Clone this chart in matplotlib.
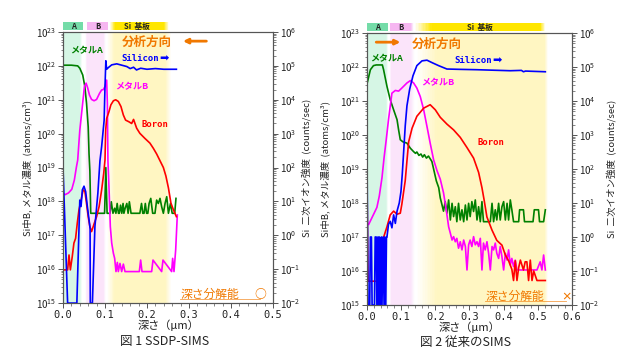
import numpy as np
import matplotlib
matplotlib.use("Agg")
from matplotlib import pyplot as plt
from matplotlib import ticker
from matplotlib.transforms import blended_transform_factory
from matplotlib.patches import Rectangle, FancyArrowPatch

plt.rcParams["font.family"] = ["Noto Sans CJK JP", "DejaVu Sans"]
plt.rcParams["axes.edgecolor"] = "#555555"
plt.rcParams["xtick.color"] = "#555555"
plt.rcParams["ytick.color"] = "#555555"
plt.rcParams["xtick.labelcolor"] = "#222222"
plt.rcParams["ytick.labelcolor"] = "#222222"

# ---- fig.1 SSDP-SIMS (depth um, log10 concentration atoms/cm3) ----
ssdp_metalA_x = [0.0, 0.02, 0.035, 0.040, 0.047, 0.052, 0.056, 0.060, 0.062, 0.064, 0.066, 0.095, 0.099,
                 0.102, 0.105, 0.109, 0.112, 0.115, 0.119, 0.123, 0.126, 0.129, 0.132, 0.134, 0.137, 0.140,
                 0.143, 0.145, 0.148, 0.152, 0.155, 0.158, 0.162, 0.1675, 0.183, 0.187, 0.190, 0.193, 0.196,
                 0.199, 0.202, 0.205, 0.209, 0.2135, 0.219, 0.223, 0.227, 0.231, 0.235, 0.239, 0.243, 0.247,
                 0.251, 0.256, 0.260, 0.263, 0.266, 0.269]
ssdp_metalA_y = [22.02, 22.02, 22.0, 21.93, 21.73, 21.39, 20.9, 20.2, 19.4, 18.9, 17.65, 17.65, 17.65,
                 19.0, 17.65, 17.65, 17.65, 17.99, 17.65, 17.8, 17.65, 17.94, 17.65, 17.65, 17.89, 17.65,
                 17.94, 17.65, 17.8, 17.94, 17.65, 17.99, 17.65, 17.65, 17.65, 17.94, 17.65, 17.65, 17.94,
                 17.65, 17.65, 17.94, 18.09, 17.65, 17.65, 18.04, 17.94, 18.09, 17.84, 17.65, 17.94, 18.14,
                 17.65, 17.94, 17.65, 17.65, 17.65, 18.09]

ssdp_metalB_x = [0.0, 0.005, 0.013, 0.021, 0.027, 0.032, 0.035, 0.040, 0.046, 0.051, 0.055, 0.059, 0.063,
                 0.068, 0.074, 0.080, 0.087, 0.092, 0.096, 0.100, 0.104, 0.1056, 0.107, 0.110, 0.1127,
                 0.116, 0.120, 0.123, 0.1262, 0.1294, 0.1317, 0.1357, 0.1397, 0.1437, 0.1476, 0.1516, 0.1817,
                 0.1849, 0.1881, 0.2111, 0.2143, 0.2349, 0.2381, 0.2587, 0.2611, 0.2643, 0.2683, 0.2722]
ssdp_metalB_y = [18.24, 18.2, 18.25, 18.36, 18.63, 19.02, 19.22, 20.1, 20.8, 21.39, 21.49, 21.34, 21.14,
                 21.01, 20.97, 21.01, 21.19, 21.29, 21.3, 21.39, 21.58, 20.9, 19.2, 18.24, 17.26,
                 16.77, 16.47, 16.32, 15.93, 16.2, 15.93, 16.17, 15.93, 16.15, 15.93, 15.93, 15.93,
                 16.27, 15.93, 15.93, 16.27, 15.93, 16.27, 15.93, 16.32, 15.93, 16.57, 17.6]

ssdp_boron_x = [0.0, 0.011, 0.0143, 0.0175, 0.022, 0.026, 0.030, 0.034, 0.038, 0.043, 0.048, 0.052, 0.056,
                0.060, 0.064, 0.068, 0.0746, 0.080, 0.086, 0.092, 0.097, 0.100, 0.1016, 0.104, 0.1095, 0.114,
                0.120, 0.1254, 0.1317, 0.138, 0.1437, 0.149, 0.157, 0.1635, 0.168, 0.1754, 0.183, 0.195,
                0.207, 0.215, 0.223, 0.231, 0.239, 0.245, 0.251, 0.257, 0.263, 0.270]
ssdp_boron_y = [15.98, 15.98, 16.42, 15.98, 16.37, 16.77, 16.91, 17.36, 17.75, 18.04, 18.34, 18.3, 17.94,
                17.55, 17.26, 17.11, 17.36, 17.55, 17.85, 18.34, 18.83, 19.22, 20.1, 20.45, 20.65, 20.85,
                20.97, 21.0, 20.95, 20.8, 20.55, 20.4, 20.35, 20.3, 20.42, 20.16, 20.01, 19.86,
                19.72, 19.57, 19.4, 19.2, 19.0, 18.75, 18.4, 17.95, 17.75, 17.55]

# silicon: log10 counts/sec
ssdp_si_x = [0.0, 0.011, 0.033, 0.040, 0.043, 0.046, 0.050, 0.054, 0.058, 0.063, 0.0645, 0.065, 0.070,
             0.076, 0.083, 0.088, 0.092, 0.098, 0.100, 0.102, 0.104, 0.108, 0.116, 0.128, 0.140, 0.152,
             0.160, 0.168, 0.175, 0.185, 0.200, 0.220, 0.240, 0.270]
ssdp_si_y = [2.0, -2.0, -2.0, 1.04, 0.85, 1.34, 1.45, 1.29, 0.85, 0.36, 0.2, -2.0, -2.0,
             0.26, 1.24, 2.2, 2.62, 3.4, 4.39, 5.15, 4.9, 4.95, 5.03, 5.06, 5.02, 4.98,
             4.92, 4.96, 4.88, 4.93, 4.9, 4.92, 4.9, 4.9]

# ---- fig.2 conventional SIMS ----
conv_metalA_x = [0.0, 0.010, 0.019, 0.027, 0.045, 0.0486, 0.0585, 0.068, 0.078, 0.088, 0.0926, 0.0975, 0.105,
                 0.117, 0.127, 0.1365, 0.142, 0.146, 0.152, 0.158, 0.163, 0.168, 0.174, 0.180, 0.185, 0.190,
                 0.195, 0.203, 0.210, 0.2145, 0.2195, 0.224, 0.229, 0.234, 0.239, 0.244, 0.249, 0.2535,
                 0.2585, 0.263, 0.268, 0.273, 0.278, 0.283, 0.288, 0.2927, 0.2975, 0.302, 0.307, 0.312,
                 0.317, 0.322, 0.3267, 0.3317, 0.3365, 0.341, 0.361, 0.366, 0.3706, 0.3755, 0.380, 0.3853,
                 0.390, 0.395, 0.400, 0.405, 0.410, 0.4145, 0.4195, 0.424, 0.429, 0.444, 0.4467, 0.458,
                 0.461, 0.486, 0.4897, 0.502, 0.505, 0.517, 0.522]
conv_metalA_y = [21.5, 21.92, 22.04, 22.06, 22.06, 21.92, 21.43, 21.04, 20.74, 20.45, 20.15, 19.86, 19.8,
                 19.76, 19.61, 19.51, 19.46, 19.5, 19.4, 19.44, 19.35, 19.42, 19.32, 19.38, 19.3, 19.22,
                 19.0, 18.65, 18.45, 18.15, 17.95, 17.76, 18.04, 17.7, 18.09, 17.5, 17.99, 17.6,
                 17.89, 17.45, 17.99, 17.5, 17.8, 17.45, 17.94, 17.5, 17.99, 17.6, 18.04, 17.75,
                 18.09, 17.5, 17.89, 17.45, 18.04, 17.45, 17.45, 17.99, 17.45, 17.8, 17.5, 17.99,
                 17.5, 17.89, 18.04, 17.5, 17.99, 17.5, 18.09, 17.8, 17.45, 17.45, 17.8, 17.8,
                 17.45, 17.45, 17.8, 17.8, 17.45, 17.45, 17.8]

conv_metalB_x = [0.005, 0.0195, 0.029, 0.036, 0.044, 0.050, 0.056, 0.063, 0.073, 0.083, 0.0926, 0.102, 0.117,
                 0.127, 0.1365, 0.146, 0.156, 0.166, 0.1756, 0.185, 0.195, 0.205, 0.2145, 0.224, 0.232,
                 0.239, 0.244, 0.249, 0.2535, 0.2585, 0.263, 0.268, 0.273, 0.278, 0.283, 0.288, 0.2927,
                 0.2975, 0.302, 0.307, 0.312, 0.317, 0.322, 0.3267, 0.3317, 0.3365, 0.341, 0.346, 0.3512,
                 0.356, 0.361, 0.366, 0.3706, 0.3755, 0.380, 0.3853, 0.390, 0.395, 0.400, 0.405, 0.410,
                 0.4145, 0.4195, 0.424, 0.429, 0.434, 0.439, 0.449, 0.468, 0.488, 0.4975, 0.507, 0.512,
                 0.517, 0.522]
conv_metalB_y = [17.37, 17.67, 17.87, 18.2, 18.75, 19.33, 19.83, 20.45, 21.23, 21.31, 21.29, 21.38, 21.53,
                 21.6, 21.53, 21.38, 21.13, 20.74, 20.25, 19.76, 19.27, 18.95, 18.7, 18.3, 17.8,
                 17.3, 17.11, 16.91, 17.01, 16.86, 16.96, 16.67, 16.86, 16.62, 16.91, 16.72, 16.03,
                 16.77, 16.91, 16.72, 17.01, 16.77, 16.86, 16.72, 16.96, 16.03, 16.82, 16.62, 16.86,
                 16.52, 16.03, 16.72, 16.62, 16.82, 16.52, 16.37, 16.72, 16.42, 16.03, 16.52, 16.32,
                 16.62, 16.18, 16.37, 16.13, 16.32, 16.03, 16.03, 16.03, 16.03, 16.03, 16.27, 16.03,
                 16.47, 16.03]

conv_boron_x = [0.0, 0.003, 0.044, 0.049, 0.0585, 0.068, 0.078, 0.088, 0.0975, 0.102, 0.112, 0.117, 0.122,
                0.132, 0.146, 0.166, 0.185, 0.200, 0.2145, 0.234, 0.2535, 0.273, 0.2927, 0.312, 0.3267,
                0.3365, 0.343, 0.351, 0.366, 0.380, 0.395, 0.405, 0.4145, 0.424, 0.429, 0.434, 0.439,
                0.444, 0.449, 0.458, 0.463, 0.468, 0.473, 0.478, 0.483, 0.488, 0.4975, 0.522]
conv_boron_y = [18.6, 15.7, 15.7, 17.0, 17.3, 17.65, 17.76, 17.67, 17.7, 17.96, 18.66, 19.24, 19.8,
                20.2, 20.55, 20.79, 20.89, 20.74, 20.52, 20.32, 20.15, 19.93, 19.63, 19.32, 18.9,
                18.45, 18.08, 17.59, 17.2, 16.9, 16.76, 16.47, 16.3, 16.05, 15.72, 16.3, 15.72,
                16.1, 16.32, 16.03, 16.27, 16.27, 15.72, 16.32, 15.72, 16.0, 15.72, 15.72]

conv_si_x = [0.0, 0.003, 0.008, 0.010, 0.013, 0.015, 0.022, 0.024, 0.027, 0.029, 0.032, 0.034, 0.036,
             0.040, 0.042, 0.044, 0.047, 0.050, 0.052, 0.055, 0.057, 0.0585, 0.063, 0.068, 0.073, 0.078,
             0.083, 0.088, 0.0945, 0.0995, 0.1033, 0.107, 0.112, 0.117, 0.125, 0.1346, 0.146, 0.161,
             0.1756, 0.190, 0.2096, 0.234, 0.273, 0.322, 0.419, 0.452, 0.458, 0.464, 0.522]
conv_si_y = [2.56, -2.0, -2.0, 0.0, 0.0, -2.0, -2.0, 0.0, 0.0, -2.0, 0.0, -2.0, 0.0,
             -2.0, 0.0, -2.0, 0.0, -2.0, 0.0, -2.0, 0.0, 0.0, 0.37, 0.46, 0.27, 0.65,
             0.4, 0.76, 1.0, 1.34, 1.85, 2.45, 3.27, 3.86, 4.35, 4.74, 5.04, 5.18,
             5.2, 5.13, 5.04, 4.94, 4.93, 4.92, 4.89, 4.9, 4.86, 4.88, 4.86]

conc_decades = list(range(15, 24))
count_decades = list(range(-2, 7))

panels = [
    dict(left=0.1, right=0.4333, bottom=0.151, top=0.9104, xmax=0.5,
         metalA=(ssdp_metalA_x, ssdp_metalA_y), metalB=(ssdp_metalB_x, ssdp_metalB_y),
         boron=(ssdp_boron_x, ssdp_boron_y), si=(ssdp_si_x, ssdp_si_y),
         bg=[(0.0, 0.046, "#d6f6e5", 0.0, 0.006), (0.053, 0.102, "#fbe4fa", 0.004, 0.006),
             (0.105, 0.258, "#fff6c2", 0.018, 0.014)],
         strip=[(0.0, 0.048, "#74dca8", 0.0, 0.0, "A", 0.024), (0.056, 0.108, "#f6b6f1", 0.0, 0.0, "B", 0.082),
                (0.112, 0.252, "#ffe600", 0.012, 0.012, "Si  基板", 0.175)],
         dir_arrow=(0.348, 0.279), dir_text=(0.14, 22.68),
         lblA=(0.016, 22.44), lblSi=(0.14, 22.23), lblB=(0.125, 21.38), lblBo=(0.188, 20.26),
         res=(0.279, 0.469, "○"), ylab_l=-0.145, ylab_r=1.14, caption="図 1 SSDP-SIMS", capx=165),
    dict(left=0.5825, right=0.9079, bottom=0.1457, top=0.9076, xmax=0.6,
         metalA=(conv_metalA_x, conv_metalA_y), metalB=(conv_metalB_x, conv_metalB_y),
         boron=(conv_boron_x, conv_boron_y), si=(conv_si_x, conv_si_y),
         bg=[(0.0, 0.062, "#d6f6e5", 0.0, 0.006), (0.066, 0.14, "#fbe4fa", 0.005, 0.012),
             (0.145, 0.53, "#fff6c2", 0.06, 0.01)],
         strip=[(0.0, 0.062, "#74dca8", 0.0, 0.0, "A", 0.031), (0.068, 0.137, "#f6b6f1", 0.0, 0.01, "B", 0.10),
                (0.14, 0.522, "#ffe600", 0.05, 0.015, "Si  基板", 0.33)],
         dir_arrow=(0.019, 0.106), dir_text=(0.132, 22.66),
         lblA=(0.01, 22.24), lblSi=(0.2555, 22.18), lblB=(0.159, 21.54), lblBo=(0.323, 19.77),
         res=(0.346, 0.583, "×"), ylab_l=-0.18, ylab_r=1.17, caption="図 2 従来のSIMS", capx=465),
]


def faded_span(ax, x0, x1, color, fl, fr, y0=None, y1=None, trans=None, n=12):
    # solid core plus stepped alpha at the edges
    def put(a, b, alpha):
        if trans is None:
            ax.axvspan(a, b, color=color, alpha=alpha, lw=0, zorder=0)
        else:
            ax.add_patch(Rectangle((a, y0), b - a, y1 - y0, transform=trans, color=color,
                                   alpha=alpha, lw=0, clip_on=False, zorder=0))
    put(x0 + fl, x1 - fr, 1.0)
    for i in range(n):
        if fl > 0:
            put(x0 + fl * i / n, x0 + fl * (i + 1) / n, (i + 0.5) / n)
        if fr > 0:
            put(x1 - fr * (i + 1) / n, x1 - fr * i / n, (i + 0.5) / n)


def decade_label(v, pos):
    return r"$\mathdefault{10^{%d}}$" % int(round(np.log10(v)))


fig = plt.figure(figsize=(6.3, 3.57), dpi=100)
orange = "#f07800"
for p in panels:
    ax = fig.add_axes([p["left"], p["bottom"], p["right"] - p["left"], p["top"] - p["bottom"]])
    ax.set_yscale("log")
    ax.set_xlim(0, p["xmax"])
    ax.set_ylim(1e15, 1e23)
    for x0, x1, c, fl, fr in p["bg"]:
        faded_span(ax, x0, x1, c, fl, fr)
    tr = blended_transform_factory(ax.transData, ax.transAxes)
    for x0, x1, c, fl, fr, lab, lx in p["strip"]:
        faded_span(ax, x0, x1, c, fl, fr, y0=1.006, y1=1.037, trans=tr)
        ax.text(lx, 1.021, lab, transform=tr, ha="center", va="center", fontsize=5.5,
                fontweight="bold", color="#222222")

    for key, col in [("metalA", "#008000"), ("metalB", "#ff00ff"), ("boron", "#ff0000")]:
        xs, ys = p[key]
        ax.plot(xs, np.power(10.0, ys), color=col, lw=1.2, zorder=3)

    ax2 = ax.twinx()
    ax2.set_yscale("log")
    ax2.set_ylim(1e-2, 1e6)
    xs, ys = p["si"]
    ax2.plot(xs, np.power(10.0, ys), color="#0000ff", lw=1.2, zorder=2)

    for a, dec in ((ax, conc_decades), (ax2, count_decades)):
        a.yaxis.set_major_locator(ticker.FixedLocator([10.0 ** k for k in dec]))
        a.yaxis.set_major_formatter(ticker.FuncFormatter(decade_label))
        minors = [m * 10.0 ** k for k in dec[:-1] for m in range(2, 10)]
        a.yaxis.set_minor_locator(ticker.FixedLocator(minors))
        a.yaxis.set_minor_formatter(ticker.NullFormatter())
        a.tick_params(axis="y", which="major", direction="out", length=3.5, width=0.7, labelsize=7, pad=1.5)
        a.tick_params(axis="y", which="minor", direction="out", length=1.8, width=0.5)
    ax.xaxis.set_major_locator(ticker.MultipleLocator(0.1))
    ax.xaxis.set_minor_locator(ticker.MultipleLocator(0.02))
    ax.xaxis.set_major_formatter(ticker.FormatStrFormatter("%.1f"))
    ax.tick_params(axis="x", which="major", direction="out", length=3.5, width=0.7, labelsize=7.5, pad=1.5)
    ax.tick_params(axis="x", which="minor", direction="out", length=1.8, width=0.5)
    for lab in ax.get_xticklabels():
        lab.set_family("DejaVu Sans Mono")

    ax.set_xlabel("深さ（μm）", fontsize=8, color="#222222")
    ax.xaxis.set_label_coords(0.5, -0.06)
    ax.set_ylabel("Si中B, メタル濃度  (atoms/cm³)", fontsize=6.8, color="#222222")
    ax.yaxis.set_label_coords(p["ylab_l"], 0.5)
    ax2.set_ylabel("Si  二次イオン強度  (counts/sec)", fontsize=6.8, color="#222222")
    ax2.yaxis.set_label_coords(p["ylab_r"], 0.5)

    # annotations
    a0, a1 = p["dir_arrow"]
    ax2.add_patch(FancyArrowPatch((a0, 10 ** 5.73), (a1, 10 ** 5.73), arrowstyle="-|>",
                                  color=orange, lw=2.0, mutation_scale=7, clip_on=False))
    ax.text(p["dir_text"][0], 10 ** p["dir_text"][1], "分析方向", color=orange, fontsize=9,
            fontweight="bold", va="center")
    ax.text(p["lblA"][0], 10 ** p["lblA"][1], "メタルA", color="#008000", fontsize=6.5,
            fontweight="bold", va="center")
    t = ax.text(p["lblSi"][0], 10 ** p["lblSi"][1], "Silicon", color="#0000ff", fontsize=6.5,
                fontweight="bold", va="center", family="DejaVu Sans Mono")
    ax.annotate("➡", xy=(1.0, 0.5), xycoords=t, xytext=(1.0, 0.5), textcoords=t, color="#0000ff",
                fontsize=8, va="center", family="DejaVu Sans")
    ax.text(p["lblB"][0], 10 ** p["lblB"][1], "メタルB", color="#ff00ff", fontsize=6.5,
            fontweight="bold", va="center")
    ax.text(p["lblBo"][0], 10 ** p["lblBo"][1], "Boron", color="#ff0000", fontsize=6.5,
            fontweight="bold", va="center", family="DejaVu Sans Mono")
    r0, r1, sym = p["res"]
    ax.text(r0, 10 ** 15.26, "深さ分解能", color=orange, fontsize=8.5, va="center")
    ax.plot([r0, r1], [10 ** 15.12, 10 ** 15.12], color=orange, lw=0.6, alpha=0.7, zorder=4)
    ax.text(r1, 10 ** 15.26, sym, color=orange, fontsize=8.5 if sym == "○" else 7.5, ha="center",
            va="center", fontweight="bold")

    fig.text(p["capx"] / 630, 1 - 342 / 357, p["caption"], ha="center", va="center", fontsize=9,
             color="#222222")

fig.savefig("out.png", dpi=100)
